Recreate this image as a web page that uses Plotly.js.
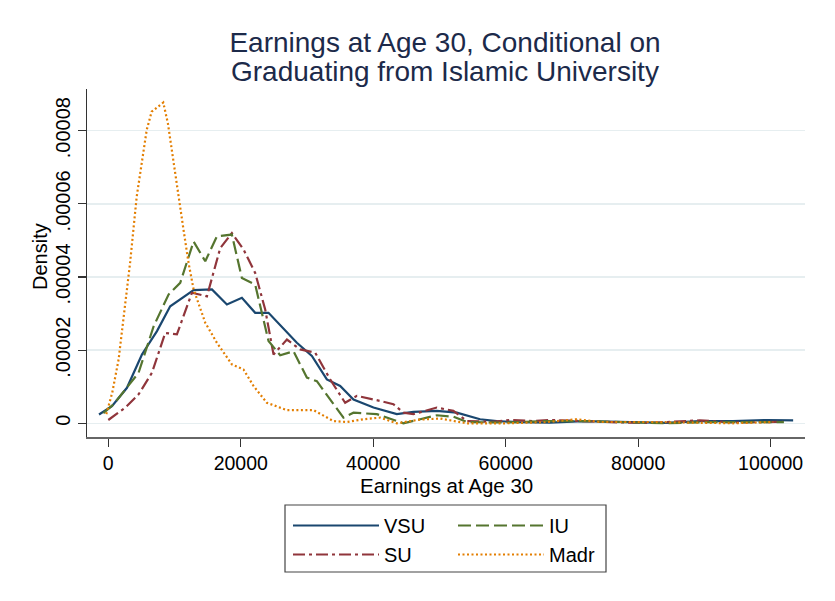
<!DOCTYPE html>
<html>
<head>
<meta charset="utf-8">
<script src="https://cdn.plot.ly/plotly-3.0.1.min.js"></script>
<style>html,body{margin:0;padding:0;background:#fff;}#chart{width:835px;height:601px;}</style>
</head>
<body>
<div id="chart"></div>
<script>
// Earnings at age 30 (x) and kernel density (y) per group
const vsuX = [-1400, 550, 2820, 5080, 7350, 9350, 12880, 15650, 17910, 20170, 22180, 24190, 28470, 30740, 33000, 35010, 37020, 40040, 43560, 46070, 49600, 52620, 56130, 58650, 62000, 66700, 71700, 79200, 84200, 89300, 94300, 99400, 103400];
const vsuY = [2.4e-6, 4.7e-6, 9.7e-6, 1.88e-5, 2.52e-5, 3.2e-5, 3.64e-5, 3.66e-5, 3.25e-5, 3.43e-5, 3.02e-5, 3.02e-5, 2.2e-5, 1.84e-5, 1.2e-5, 1.02e-5, 6.5e-6, 4.3e-6, 2.5e-6, 3.1e-6, 3.4e-6, 2.9e-6, 1.1e-6, 6e-7, 3e-7, 2e-7, 6e-7, 3e-7, 1e-7, 6e-7, 6e-7, 9e-7, 8e-7];

const iuX = [-750, 800, 4570, 6840, 9100, 10860, 12880, 14640, 16400, 18660, 20170, 22180, 24190, 25950, 27960, 29980, 31490, 35500, 37020, 40540, 44560, 49600, 52100, 54130, 60000, 66000, 72000, 78000, 84000, 90000, 96000, 102000];
const iuY = [2.8e-6, 5.2e-6, 1.38e-5, 2.65e-5, 3.52e-5, 3.84e-5, 4.97e-5, 4.43e-5, 5.11e-5, 5.16e-5, 3.97e-5, 3.79e-5, 2.25e-5, 1.86e-5, 1.97e-5, 1.25e-5, 1.15e-5, 1.55e-6, 2.9e-6, 2.5e-6, 0, 2.2e-6, 1.8e-6, 3.5e-7, 2e-7, 6e-7, 6e-7, 2e-7, 0, 3e-7, 2e-7, 3e-7];

const suX = [0, 2570, 4570, 6590, 8600, 10360, 12630, 14890, 16900, 18660, 20420, 22180, 23690, 24950, 26970, 28970, 31240, 33500, 35760, 37530, 41050, 43050, 44560, 46070, 49600, 52100, 54130, 58000, 60660, 64100, 66700, 72000, 78000, 82000, 89300, 94300, 101900];
const suY = [9e-7, 4.3e-6, 7.9e-6, 1.38e-5, 2.47e-5, 2.43e-5, 3.57e-5, 3.47e-5, 4.79e-5, 5.2e-5, 4.75e-5, 4.11e-5, 3.11e-5, 1.88e-5, 2.29e-5, 2.02e-5, 1.93e-5, 1.2e-5, 5.6e-6, 7.5e-6, 6.1e-6, 5.2e-6, 2.9e-6, 2.5e-6, 4.3e-6, 3.4e-6, 6e-7, 4e-7, 9e-7, 6e-7, 9e-7, 5e-7, 2e-7, 1e-7, 8e-7, 2e-7, 4e-7];

const madrX = [-300, 600, 1560, 2310, 3280, 4290, 5040, 5800, 6550, 7500, 8300, 9000, 9850, 10610, 11360, 12120, 12880, 14640, 16400, 18660, 20420, 21930, 23940, 26970, 30980, 34000, 36020, 38530, 41050, 43560, 47000, 50100, 54130, 60000, 66000, 70700, 74200, 82000, 88000, 94300, 100400];
const madrY = [2.5e-6, 8.4e-6, 1.75e-5, 2.93e-5, 4.37e-5, 6.2e-5, 7.11e-5, 8.02e-5, 8.52e-5, 8.65e-5, 8.77e-5, 8.2e-5, 7.11e-5, 6.2e-5, 5.29e-5, 4.38e-5, 3.66e-5, 2.75e-5, 2.2e-5, 1.61e-5, 1.47e-5, 1.02e-5, 5.6e-6, 3.6e-6, 3.6e-6, 6e-7, 3.5e-7, 1.1e-6, 1.55e-6, 0, 1e-6, 1.3e-6, 0, 0, 3e-7, 1.1e-6, 3.5e-7, 3.5e-7, 2e-7, 0, 3.5e-7];

const seriesNames = ['VSU', 'IU', 'SU', 'Madr'];
const xTickVals = [0, 20000, 40000, 60000, 80000, 100000];
const xTickText = ['0', '20000', '40000', '60000', '80000', '100000'];
const yTickVals = [0, 0.00002, 0.00004, 0.00006, 0.00008];
const yTickText = ['0', '.00002', '.00004', '.00006', '.00008'];
const xTitle = 'Earnings at Age 30';
const yTitle = 'Density';

const FONT = 'Liberation Sans, Arial, sans-serif';

const traces = [
  {x: vsuX, y: vsuY, name: seriesNames[0], mode: 'lines', legend: 'legend',
   line: {color: '#1a476f', width: 2.2}},
  {x: suX, y: suY, name: seriesNames[2], mode: 'lines', legend: 'legend',
   line: {color: '#90353b', width: 2.2, dash: '12px,4px,3px,4px'}},
  {x: iuX, y: iuY, name: seriesNames[1], mode: 'lines', legend: 'legend2',
   line: {color: '#55752f', width: 2.2, dash: '13px,5px'}},
  {x: madrX, y: madrY, name: seriesNames[3], mode: 'lines', legend: 'legend2',
   line: {color: '#e37e00', width: 2.2, dash: '2px,2.5px'}}
];

const legendCommon = {
  xref: 'container', yref: 'container', xanchor: 'left', yanchor: 'top',
  bgcolor: 'rgba(0,0,0,0)', borderwidth: 0, orientation: 'v', itemwidth: 86,
  font: {family: FONT, size: 20, color: '#000'}, tracegroupgap: 0
};

const layout = {
  width: 835, height: 601,
  paper_bgcolor: '#ffffff', plot_bgcolor: '#ffffff',
  margin: {l: 87, r: 30, t: 89, b: 164, autoexpand: false},
  font: {family: FONT, color: '#000'},
  title: {
    text: 'Earnings at Age 30, Conditional on',
    font: {family: FONT, size: 28, color: '#1c2a4a'},
    x: 445 / 835, xanchor: 'center', xref: 'container',
    y: 1 - 42 / 601, yanchor: 'middle', yref: 'container'
  },
  annotations: [{
    text: 'Graduating from Islamic University',
    font: {family: FONT, size: 28, color: '#1c2a4a'},
    xref: 'paper', yref: 'paper', x: (445 - 87) / 718, y: 1 + (89 - 71) / 348,
    xanchor: 'center', yanchor: 'middle', showarrow: false
  }, {
    text: xTitle,
    font: {family: FONT, size: 20.5, color: '#000'},
    xref: 'paper', yref: 'paper', x: 0.5, y: (437 - 485) / 348,
    xanchor: 'center', yanchor: 'middle', showarrow: false
  }, {
    text: yTitle, textangle: -90,
    font: {family: FONT, size: 20, color: '#000'},
    xref: 'paper', yref: 'paper', x: (40 - 87) / 718, y: (437 - 257) / 348,
    xanchor: 'center', yanchor: 'middle', showarrow: false
  }],
  xaxis: {
    range: [-3215, 105190],
    tickvals: xTickVals, ticktext: xTickText, tickangle: 0,
    ticks: 'outside', ticklen: 8, tickwidth: 1.2, tickcolor: '#333',
    showline: true, linecolor: '#666', linewidth: 1.5,
    showgrid: false, zeroline: false,
    tickfont: {family: FONT, size: 19.5, color: '#000'},
    automargin: false
  },
  yaxis: {
    range: [-3.75e-6, 9.14e-5],
    tickvals: yTickVals, ticktext: yTickText, tickangle: -90,
    ticks: 'outside', ticklen: 8, tickwidth: 1.2, tickcolor: '#333',
    showline: true, linecolor: '#333', linewidth: 1.3,
    showgrid: true, gridcolor: '#e6eef0', gridwidth: 1.5, zeroline: false,
    tickfont: {family: FONT, size: 20, color: '#000'},
    automargin: false
  },
  showlegend: true,
  legend: Object.assign({}, legendCommon, {x: 288 / 835, y: 1 - 506 / 601}),
  legend2: Object.assign({}, legendCommon, {x: 453 / 835, y: 1 - 506 / 601}),
  shapes: [{
    type: 'rect', xref: 'paper', yref: 'paper',
    x0: (285 - 87) / 718, x1: (606 - 87) / 718,
    y0: (437 - 505) / 348, y1: (437 - 572) / 348,
    line: {color: '#444', width: 1.2}, fillcolor: 'rgba(0,0,0,0)'
  }]
};

Plotly.newPlot('chart', traces, layout, {displayModeBar: false, staticPlot: true});
</script>
</body>
</html>
